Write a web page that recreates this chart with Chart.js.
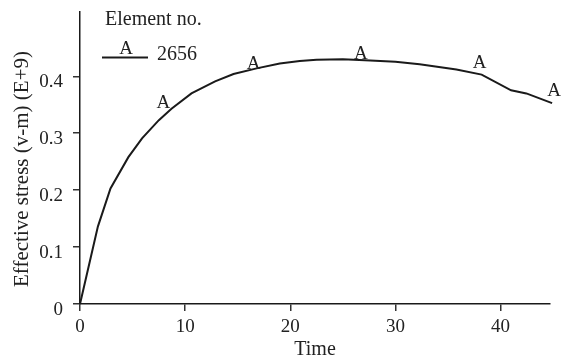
<!DOCTYPE html>
<html>
<head>
<meta charset="utf-8">
<script src="https://cdn.jsdelivr.net/npm/chart.js@4/dist/chart.umd.min.js"></script>
<style>
  html, body { margin: 0; padding: 0; background: #fff; }
  #wrap { width: 561px; height: 360px; position: relative; }
</style>
</head>
<body>
<div id="wrap"><canvas id="c" width="561" height="360"></canvas></div>
<script>
// Effective stress history of element 2656
const times    = [0, 1.7, 2.9, 4.6, 5.9, 7.5, 8.7, 10.6, 12.85, 14.6, 16.8, 19.0, 20.9, 22.5, 25.0, 27.6, 30.0, 32.3, 35.8, 38.2, 41.0, 42.45, 44.9];
const stress   = [0, 0.136, 0.203, 0.258, 0.291, 0.323, 0.343, 0.370, 0.391, 0.404, 0.414, 0.4226, 0.427, 0.429, 0.430, 0.428, 0.4255, 0.421, 0.412, 0.403, 0.3755, 0.370, 0.353];

// Symbol "A" placements along the curve (time, stress at the glyph baseline)
const symbolTimes  = [7.94, 16.5, 26.7, 38.0, 45.1];
const symbolStress = [0.3435, 0.4137, 0.4296, 0.4138, 0.365];
const symbolChar   = 'A';

const xTicks = [0, 10, 20, 30, 40];
const yTicks = [0, 0.1, 0.2, 0.3, 0.4];

const elementNo   = '2656';
const legendTitle = 'Element no.';
const xTitle = 'Time';
const yTitle = 'Effective stress (v-m) (E+9)';

const SERIF = "'Liberation Serif', 'Times New Roman', serif";
const INK = '#1a1a1a';

// Draws the "A" symbols on the curve, the legend block and the y-axis title
const annotate = {
  id: 'annotate',
  afterDatasetsDraw(chart) {
    const ctx = chart.ctx;
    const meta = chart.getDatasetMeta(1);
    ctx.save();
    ctx.fillStyle = '#222';
    ctx.font = '19px ' + SERIF;
    ctx.textAlign = 'center';
    ctx.textBaseline = 'alphabetic';
    meta.data.forEach(pt => ctx.fillText(symbolChar, pt.x, pt.y));
    ctx.restore();
  },
  afterDraw(chart) {
    const ctx = chart.ctx;
    ctx.save();
    ctx.fillStyle = '#222';
    // legend
    ctx.font = '20px ' + SERIF;
    ctx.textAlign = 'left';
    ctx.textBaseline = 'alphabetic';
    ctx.fillText(legendTitle, 105, 25);
    ctx.fillText(elementNo, 157, 60);
    ctx.textAlign = 'center';
    ctx.font = '19px ' + SERIF;
    ctx.fillText(symbolChar, 126, 54);
    ctx.strokeStyle = INK;
    ctx.lineWidth = 2;
    ctx.beginPath();
    ctx.moveTo(102, 57.5);
    ctx.lineTo(148, 57.5);
    ctx.stroke();
    // y-axis title
    ctx.font = '21px ' + SERIF;
    ctx.translate(22, 169);
    ctx.rotate(-Math.PI / 2);
    ctx.textAlign = 'center';
    ctx.textBaseline = 'middle';
    ctx.fillText(yTitle, 0, 0);
    ctx.restore();
  }
};

new Chart(document.getElementById('c'), {
  type: 'scatter',
  data: {
    datasets: [
      {
        data: times.map((t, i) => ({ x: t, y: stress[i] })),
        showLine: true,
        borderColor: INK,
        borderWidth: 2,
        pointRadius: 0,
        tension: 0,
        clip: false
      },
      {
        data: symbolTimes.map((t, i) => ({ x: t, y: symbolStress[i] })),
        showLine: false,
        pointRadius: 0,
        clip: false
      }
    ]
  },
  plugins: [annotate],
  options: {
    responsive: false,
    animation: false,
    events: [],
    layout: { padding: { top: 12, right: 11, left: 0, bottom: 0 } },
    plugins: { legend: { display: false }, tooltip: { enabled: false } },
    scales: {
      x: {
        type: 'linear',
        min: 0,
        max: 44.7,
        afterBuildTicks: s => { s.ticks = xTicks.map(v => ({ value: v })); },
        afterFit: s => { s.height = 56; s.paddingLeft = 0; s.paddingRight = 0; },
        grid: { display: true, drawOnChartArea: false, drawTicks: true, tickLength: 7, color: '#333', lineWidth: 1.5 },
        border: { display: true, color: INK, width: 1.5 },
        ticks: { color: '#222', font: { family: SERIF, size: 19 }, padding: 5, maxRotation: 0 },
        title: { display: true, text: xTitle, color: '#222', font: { family: SERIF, size: 20 }, padding: { top: 0, bottom: -2 } }
      },
      y: {
        type: 'linear',
        min: 0,
        max: 0.513,
        afterBuildTicks: s => { s.ticks = yTicks.map(v => ({ value: v })); },
        afterFit: s => { s.width = 80; s.paddingTop = 0; s.paddingBottom = 0; },
        grid: { display: true, drawOnChartArea: false, drawTicks: true, tickLength: 7, color: '#333', lineWidth: 1.5 },
        border: { display: true, color: INK, width: 1.5 },
        ticks: { color: '#222', font: { family: SERIF, size: 19 }, padding: 10, labelOffset: 6,
                 callback: v => (v === 0 ? '0' : v.toFixed(1)) }
      }
    }
  }
});
</script>
</body>
</html>
